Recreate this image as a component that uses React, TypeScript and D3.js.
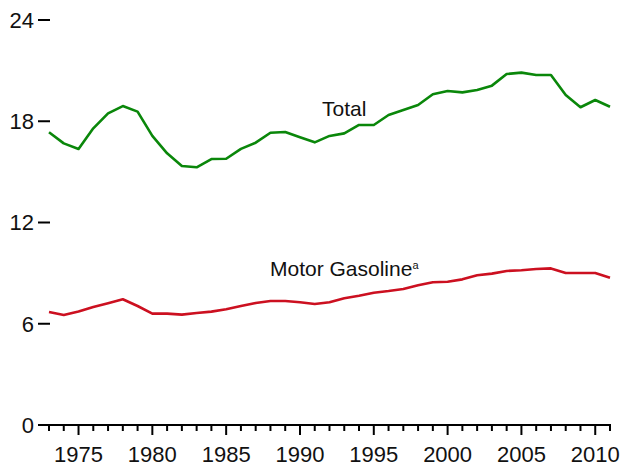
import { useRef, useEffect } from "react";
import * as d3 from "d3";

// Years shown on the chart
const years = d3.range(1973, 2012);

// Total (green line)
const totalValues = [
  17.35, 16.69, 16.36, 17.58, 18.47, 18.9, 18.57, 17.13, 16.1, 15.35,
  15.27, 15.76, 15.78, 16.36, 16.73, 17.32, 17.36, 17.05, 16.75, 17.13,
  17.28, 17.78, 17.78, 18.37, 18.67, 18.96, 19.6, 19.79, 19.71, 19.85,
  20.11, 20.8, 20.88, 20.74, 20.74, 19.56, 18.83, 19.26, 18.86,
];

// Motor gasoline (red line)
const gasolineValues = [
  6.7, 6.52, 6.72, 6.99, 7.21, 7.45, 7.05, 6.6, 6.6, 6.54,
  6.64, 6.72, 6.86, 7.05, 7.23, 7.35, 7.35, 7.27, 7.17, 7.27,
  7.51, 7.66, 7.84, 7.94, 8.06, 8.28, 8.46, 8.49, 8.63, 8.87,
  8.97, 9.13, 9.17, 9.24, 9.28, 9.01, 9.01, 9.01, 8.73,
];

const yTicks = [0, 6, 12, 18, 24];
const xLabelYears = [1975, 1980, 1985, 1990, 1995, 2000, 2005, 2010];

export default function App() {
  const ref = useRef<SVGSVGElement>(null);

  // Chart attributes
  const chartAttr = { width: 623, height: 468, left: 49, right: 610, top: 20, bottom: 425 };
  const font = "'Liberation Sans', Arial, sans-serif";

  useEffect(() => {
    const svg = d3.select(ref.current);
    svg.selectAll("*").remove();

    const xScale = d3.scaleLinear().domain([1973, 2011]).range([chartAttr.left, chartAttr.right]);
    const yScale = d3.scaleLinear().domain([0, 24]).range([chartAttr.bottom, chartAttr.top]);

    // y axis: ticks only, no domain line
    const yAxis = svg.append("g").attr("transform", "translate(" + (chartAttr.left + 1) + ",0)");
    yAxis
      .selectAll("line")
      .data(yTicks)
      .enter()
      .append("line")
      .attr("x1", -12)
      .attr("x2", 0)
      .attr("y1", (d) => yScale(d))
      .attr("y2", (d) => yScale(d))
      .attr("stroke", "#000")
      .attr("stroke-width", 2);
    yAxis
      .selectAll("text")
      .data(yTicks)
      .enter()
      .append("text")
      .attr("x", -16)
      .attr("y", (d) => yScale(d))
      .attr("dy", "0.36em")
      .attr("text-anchor", "end")
      .attr("font-family", font)
      .attr("font-size", 22)
      .attr("fill", "#111")
      .text((d) => d);

    // x axis line
    const xAxis = svg.append("g");
    xAxis
      .append("line")
      .attr("x1", 38)
      .attr("x2", xScale(2011) + 1)
      .attr("y1", chartAttr.bottom)
      .attr("y2", chartAttr.bottom)
      .attr("stroke", "#000")
      .attr("stroke-width", 2);

    // yearly ticks, longer every five years
    xAxis
      .selectAll("line.tick")
      .data(years)
      .enter()
      .append("line")
      .attr("class", "tick")
      .attr("x1", (d) => xScale(d))
      .attr("x2", (d) => xScale(d))
      .attr("y1", chartAttr.bottom)
      .attr("y2", (d) => chartAttr.bottom + (d % 5 === 0 ? 10 : 6))
      .attr("stroke", "#000")
      .attr("stroke-width", 2);

    xAxis
      .selectAll("text")
      .data(xLabelYears)
      .enter()
      .append("text")
      .attr("x", (d) => xScale(d))
      .attr("y", 462)
      .attr("text-anchor", "middle")
      .attr("font-family", font)
      .attr("font-size", 22)
      .attr("fill", "#111")
      .text((d) => d);

    // lines
    const line = d3
      .line<number>()
      .x((d, i) => xScale(years[i]))
      .y((d) => yScale(d));

    svg
      .append("path")
      .attr("d", line(totalValues))
      .attr("fill", "none")
      .attr("stroke", "#0a870a")
      .attr("stroke-width", 2.6)
      .attr("stroke-linejoin", "round");

    svg
      .append("path")
      .attr("d", line(gasolineValues))
      .attr("fill", "none")
      .attr("stroke", "#cc1020")
      .attr("stroke-width", 2.6)
      .attr("stroke-linejoin", "round");

    // series labels
    svg
      .append("text")
      .attr("x", 322)
      .attr("y", 116)
      .attr("font-family", font)
      .attr("font-size", 21)
      .attr("fill", "#111")
      .text("Total");

    const gas = svg
      .append("text")
      .attr("x", 270)
      .attr("y", 276)
      .attr("font-family", font)
      .attr("font-size", 21)
      .attr("fill", "#111");
    gas.append("tspan").text("Motor Gasoline");
    gas.append("tspan").attr("font-size", 11).attr("dy", -7).text("a");
  }, []);

  return (
    <div style={{ position: "absolute", left: 0, top: 0 }}>
      <svg ref={ref} width={chartAttr.width} height={chartAttr.height} style={{ display: "block", background: "#fff" }} />
    </div>
  );
}
